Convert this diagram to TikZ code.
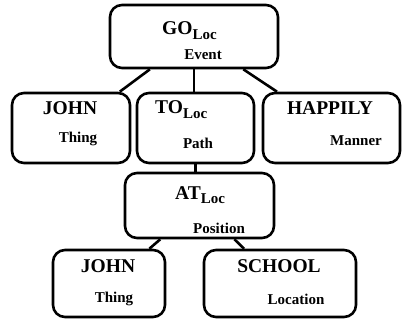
\documentclass[tikz,border=0pt]{standalone}
\usepackage{fontspec}
\setmainfont{Liberation Serif}
\newcommand{\locsub}{\raisebox{-0.45ex}{\fontsize{15}{15}\selectfont Loc}}
\begin{document}
\begin{tikzpicture}[x=1pt,y=-1pt,
  box/.style={draw, line width=2.6pt, rounded corners=12pt, minimum width=#1, inner sep=0pt},
  conn/.style={line width=2.6pt},
  mainlbl/.style={font=\fontsize{19.5}{20}\selectfont\bfseries, inner sep=0pt},
  sublbl/.style={font=\fontsize{15}{15}\selectfont\bfseries, inner sep=0pt}]
\useasboundingbox (0,0) rectangle (403,320);
\node[box=168pt, minimum height=63pt] (go) at (194,36.5) {};
\node[box=118pt, minimum height=70pt] (john1) at (71,128) {};
\node[box=117pt, minimum height=70pt] (to) at (195.5,128) {};
\node[box=137pt, minimum height=70pt] (happily) at (331.5,128) {};
\node[box=149pt, minimum height=65pt] (at) at (199.5,205.5) {};
\node[box=112pt, minimum height=67pt] (john2) at (109,283.5) {};
\node[box=152pt, minimum height=67pt] (school) at (280,283.5) {};
% labels
\node[mainlbl, anchor=base west] (goT) at (162,35) {GO\locsub};
\node[sublbl] (goS) at (203,55) {Event};
\node[mainlbl] (john1T) at (70,108) {JOHN};
\node[sublbl] (john1S) at (78,139) {Thing};
\node[mainlbl, anchor=base west] (toT) at (155,114) {TO\locsub};
\node[sublbl] (toS) at (198,143) {Path};
\node[mainlbl] (happilyT) at (330,108) {HAPPILY};
\node[sublbl] (happilyS) at (356,141) {Manner};
\node[mainlbl, anchor=base west] (atT) at (175,199) {AT\locsub};
\node[sublbl] (atS) at (219,228) {Position};
\node[mainlbl] (john2T) at (108,266) {JOHN};
\node[sublbl] (john2S) at (114,299) {Thing};
\node[mainlbl] (schoolT) at (279,266) {SCHOOL};
\node[sublbl] (schoolS) at (296,299) {Location};
% connectors
\draw[conn] (go) -- (john1);
\draw[conn] (go.south) -- (go.south |- to.north);
\draw[conn] (go) -- (happily);
\draw[conn] (to.south) -- (to.south |- at.north);
\draw[conn] (at) -- (john2);
\draw[conn] (at) -- (school);
\end{tikzpicture}
\end{document}
